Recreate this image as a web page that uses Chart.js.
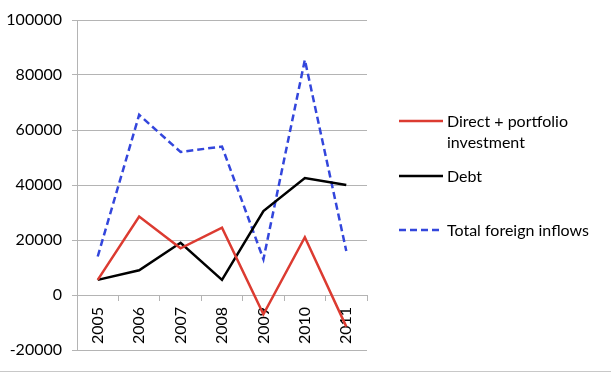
<!DOCTYPE html>
<html>
<head>
<meta charset="utf-8">
<script src="https://cdn.jsdelivr.net/npm/chart.js@4"></script>
<style>
  html, body { margin: 0; padding: 0; background: #fff; }
  #wrap { width: 611px; height: 371px; border-bottom: 1px solid #c8c8c8; }
</style>
</head>
<body>
<div id="wrap"><canvas id="chart" width="611" height="371"></canvas></div>
<script>
// Données du graphique
const years = ['2005', '2006', '2007', '2008', '2009', '2010', '2011'];
const directPortfolio = [5500, 28500, 17000, 24500, -7000, 21000, -11500];
const debt = [5500, 9000, 19000, 5500, 30500, 42500, 40000];
const totalInflows = [14000, 65500, 52000, 54000, 13000, 85500, 16000];
const seriesNames = [['Direct + portfolio', 'investment'], ['Debt'], ['Total foreign inflows']];
const yTicks = { min: -20000, max: 100000, step: 20000 };

const FONT = 'Lato, "Open Sans", sans-serif';
const gridGray = '#b4b4b4';

// Légende dessinée à la main (texte sur deux lignes)
const sideLegend = {
    id: 'sideLegend',
    afterDraw(chart) {
        const ctx = chart.ctx;
        const rows = [121, 176, 230];
        ctx.save();
        ctx.font = '16px ' + FONT;
        ctx.fillStyle = '#000';
        ctx.textBaseline = 'middle';
        chart.data.datasets.forEach((ds, i) => {
            const y = rows[i];
            ctx.beginPath();
            ctx.strokeStyle = ds.borderColor;
            ctx.lineWidth = 2.5;
            ctx.setLineDash(ds.borderDash || []);
            ctx.moveTo(399, y);
            ctx.lineTo(443, y);
            ctx.stroke();
            ctx.setLineDash([]);
            seriesNames[i].forEach((line, j) => {
                ctx.fillText(line, 447, y + 1 + j * 21);
            });
        });
        ctx.restore();
    }
};

new Chart(document.getElementById('chart'), {
    type: 'line',
    data: {
        labels: years,
        datasets: [
            { label: seriesNames[0].join(' '), data: directPortfolio, borderColor: '#dc3b31', borderWidth: 2.5 },
            { label: seriesNames[1].join(' '), data: debt, borderColor: '#000000', borderWidth: 2.5 },
            { label: seriesNames[2].join(' '), data: totalInflows, borderColor: '#3346dc', borderWidth: 2.5, borderDash: [7, 4] }
        ]
    },
    options: {
        responsive: false,
        animation: false,
        elements: {
            point: { radius: 0 },
            line: { tension: 0, fill: false, borderCapStyle: 'butt' }
        },
        layout: { padding: { top: 20, bottom: 21, left: 0, right: 244 } },
        plugins: {
            legend: { display: false },
            tooltip: { enabled: false }
        },
        scales: {
            x: {
                position: { y: 0 },
                offset: true,
                grid: { offset: true, drawOnChartArea: false, drawTicks: true, tickLength: 5, color: gridGray },
                border: { display: true, color: gridGray },
                ticks: { minRotation: 90, maxRotation: 90, padding: 7, color: '#000', font: { family: FONT, size: 16 } }
            },
            y: {
                min: yTicks.min,
                max: yTicks.max,
                afterFit(scale) { scale.width = 77; },
                grid: { color: gridGray, tickLength: 5 },
                border: { display: true, color: gridGray },
                ticks: {
                    stepSize: yTicks.step,
                    padding: 10,
                    color: '#000',
                    font: { family: FONT, size: 16 },
                    callback: v => String(v)
                }
            }
        }
    },
    plugins: [sideLegend]
});
</script>
</body>
</html>
